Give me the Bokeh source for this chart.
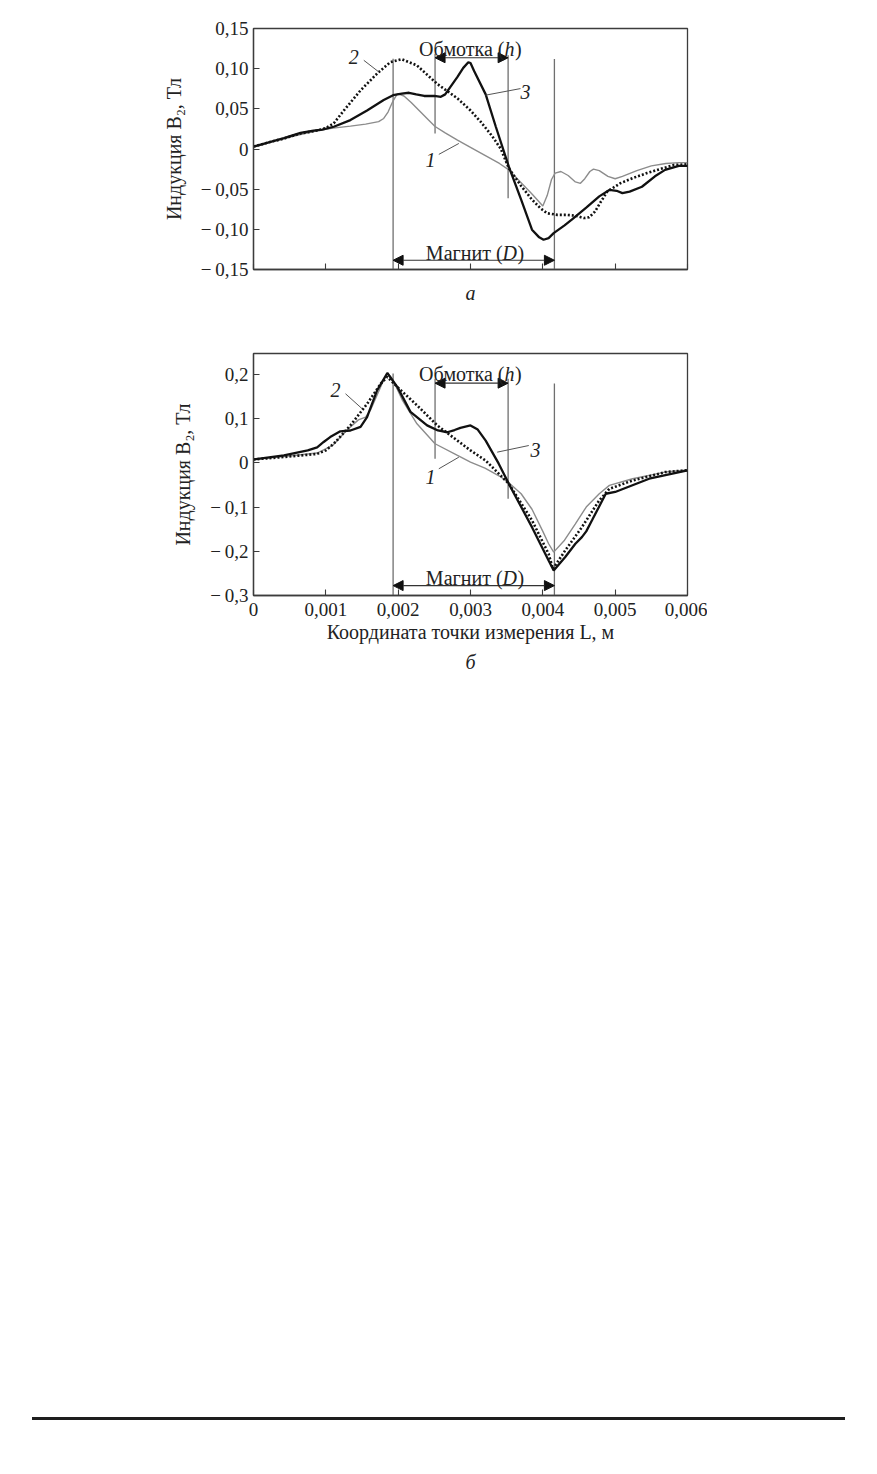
import math
import numpy as np
from bokeh.plotting import figure
from bokeh.models import (Range1d, FixedTicker, CustomJSTickFormatter, Label,
                          Arrow, NormalHead, Title, Div, Spacer)
from bokeh.layouts import column, row
from bokeh.embed import file_html
from bokeh.resources import INLINE

# ---------------- data (x in mm, converted to m below; B in T) ----------------
# panel a
a1_x = [0, 0.2, 0.42, 0.65, 0.88, 1.1, 1.34, 1.55, 1.73, 1.8, 1.86, 1.93, 1.99, 2.08, 2.18,
        2.3, 2.42, 2.51, 2.65, 2.82, 3.0, 3.2, 3.4, 3.53, 3.7, 3.85, 3.95, 4.0, 4.06, 4.12,
        4.17, 4.25, 4.35, 4.45, 4.52, 4.58, 4.65, 4.7, 4.78, 4.9, 5.0, 5.1, 5.3, 5.5, 5.7,
        5.88, 6.0]
a1_y = [0.003, 0.008, 0.013, 0.018, 0.0227, 0.026, 0.0285, 0.031, 0.034, 0.038, 0.046, 0.060,
        0.069, 0.066, 0.058, 0.047, 0.036, 0.028, 0.020, 0.011, 0.002, -0.008, -0.018, -0.026,
        -0.042, -0.056, -0.066, -0.071, -0.058, -0.038, -0.030, -0.028, -0.033, -0.041,
        -0.0427, -0.037, -0.028, -0.025, -0.027, -0.034, -0.037, -0.034, -0.027, -0.021,
        -0.018, -0.017, -0.017]

a2_x = [0, 0.2, 0.42, 0.65, 0.88, 1.0, 1.11, 1.25, 1.48, 1.71, 1.89, 2.05, 2.26, 2.54, 2.82,
        3.0, 3.14, 3.3, 3.42, 3.53, 3.7, 3.85, 3.97, 4.06, 4.2, 4.33, 4.45, 4.57, 4.64, 4.72,
        4.8, 4.89, 5.07, 5.25, 5.44, 5.62, 5.81, 6.0]
a2_y = [0.003, 0.008, 0.013, 0.0194, 0.023, 0.026, 0.032, 0.048, 0.073, 0.094, 0.108, 0.1117,
        0.104, 0.081, 0.063, 0.048, 0.034, 0.016, 0.0, -0.024, -0.046, -0.063, -0.074, -0.080,
        -0.082, -0.082, -0.083, -0.086, -0.085, -0.078, -0.066, -0.053, -0.0427, -0.036,
        -0.030, -0.025, -0.020, -0.019]

a3_x = [0, 0.2, 0.42, 0.65, 0.83, 0.95, 1.11, 1.34, 1.57, 1.8, 1.93, 2.05, 2.15, 2.25, 2.36,
        2.5, 2.59, 2.65, 2.72, 2.82, 2.9, 2.97, 3.0, 3.05, 3.21, 3.35, 3.53, 3.7, 3.85, 3.95,
        4.01, 4.08, 4.15, 4.3, 4.4, 4.6, 4.78, 4.92, 5.02, 5.1, 5.2, 5.37, 5.55, 5.69, 5.88, 6.0]
a3_y = [0.003, 0.008, 0.0135, 0.020, 0.023, 0.024, 0.0277, 0.036, 0.048, 0.061, 0.067, 0.069,
        0.070, 0.068, 0.066, 0.066, 0.065, 0.068, 0.077, 0.0897, 0.101, 0.108, 0.107, 0.097,
        0.068, 0.0277, -0.022, -0.063, -0.1005, -0.110, -0.113, -0.111, -0.1047, -0.095,
        -0.088, -0.073, -0.059, -0.051, -0.052, -0.055, -0.053, -0.047, -0.034, -0.026,
        -0.021, -0.021]

# panel b
b1_x = [0, 0.42, 0.88, 1.1, 1.3, 1.45, 1.55, 1.62, 1.7, 1.78, 1.85, 1.92, 2.06, 2.26, 2.51,
        2.82, 3.0, 3.2, 3.4, 3.53, 3.7, 3.85, 4.0, 4.08, 4.15, 4.3, 4.45, 4.6, 4.78, 4.92,
        5.24, 5.69, 6.0]
b1_y = [0.0075, 0.0143, 0.022, 0.04, 0.075, 0.097, 0.103, 0.12, 0.15, 0.18, 0.203, 0.19,
        0.141, 0.088, 0.043, 0.0166, 0.0015, -0.012, -0.03, -0.045, -0.07, -0.105, -0.155,
        -0.183, -0.202, -0.175, -0.138, -0.10, -0.070, -0.051, -0.036, -0.021, -0.016]

b2_x = [0, 0.42, 0.88, 1.0, 1.11, 1.34, 1.57, 1.76, 1.85, 1.99, 2.26, 2.54, 2.82, 3.0, 3.21,
        3.53, 3.85, 4.08, 4.14, 4.31, 4.54, 4.78, 4.92, 5.24, 5.69, 6.0]
b2_y = [0.0075, 0.013, 0.020, 0.028, 0.043, 0.0845, 0.133, 0.179, 0.194, 0.171, 0.13, 0.0845,
        0.05, 0.028, 0.005, -0.0475, -0.130, -0.206, -0.24, -0.198, -0.1455, -0.085, -0.059,
        -0.040, -0.021, -0.017]

b3_x = [0, 0.42, 0.75, 0.88, 0.97, 1.06, 1.2, 1.34, 1.48, 1.57, 1.71, 1.85, 1.99, 2.17, 2.4,
        2.55, 2.68, 2.78, 2.86, 3.0, 3.1, 3.21, 3.39, 3.53, 3.85, 4.08, 4.15, 4.31, 4.45, 4.54,
        4.6, 4.68, 4.87, 5.0, 5.47, 6.0]
b3_y = [0.0075, 0.0166, 0.028, 0.035, 0.047, 0.058, 0.071, 0.073, 0.081, 0.103, 0.164, 0.203,
        0.171, 0.115, 0.0845, 0.073, 0.069, 0.074, 0.079, 0.0845, 0.075, 0.05, -0.002, -0.0475,
        -0.1455, -0.221, -0.2435, -0.213, -0.183, -0.168, -0.155, -0.130, -0.070, -0.066,
        -0.036, -0.0173]

# geometry of magnet (D) and winding (h), mm
magnet_mm = [1.93, 4.16]
winding_mm = [2.51, 3.52]

x_ticks_mm = [0, 1, 2, 3, 4, 5, 6]
ya_ticks = [-0.15, -0.10, -0.05, 0, 0.05, 0.10, 0.15]
yb_ticks = [-0.3, -0.2, -0.1, 0, 0.1, 0.2]

y_title = "Индукция B₂, Тл"
x_title = "Координата точки измерения L, м"

MM = 1e-3
INK = "#222222"
FRAME = "#3c3c3c"
SERIF = "Liberation Serif"


def m(v):
    return [t * MM for t in v]


def text(p, x_mm, y, s, size=20, style="normal", align="center", baseline="alphabetic",
         angle=0.0, xo=0, yo=0):
    p.add_layout(Label(x=x_mm * MM, y=y, text=s, text_font=SERIF,
                       text_font_size=f"{size}px", text_font_style=style,
                       text_align=align, text_baseline=baseline, angle=angle,
                       x_offset=xo, y_offset=yo, text_color=INK))


def make_fig(y_range, y_ticks, y_code, x_code, top, bottom, fh):
    p = figure(output_backend="svg", toolbar_location=None,
               x_range=Range1d(0, 0.006), y_range=y_range,
               frame_width=434, frame_height=fh,
               min_border_left=253, min_border_right=20,
               min_border_top=top, min_border_bottom=bottom,
               background_fill_color="white", border_fill_color="white")
    p.xgrid.visible = False
    p.ygrid.visible = False
    p.outline_line_color = FRAME
    p.outline_line_width = 1.3
    p.outline_line_alpha = 1.0
    for ax in (p.xaxis[0], p.yaxis[0]):
        ax.axis_line_color = FRAME
        ax.axis_line_width = 1.3
        ax.major_tick_line_color = FRAME
        ax.major_tick_line_width = 1.1
        ax.major_tick_in = 6
        ax.major_tick_out = 0
        ax.minor_tick_line_color = None
        ax.major_label_text_font = SERIF
        ax.major_label_text_font_size = "19px"
        ax.major_label_text_color = INK
        ax.major_label_standoff = 5
        ax.axis_label_text_font = SERIF
        ax.axis_label_text_font_size = "20px"
        ax.axis_label_text_font_style = "normal"
        ax.axis_label_text_color = INK
    p.xaxis[0].ticker = FixedTicker(ticks=m(x_ticks_mm))
    p.yaxis[0].ticker = FixedTicker(ticks=y_ticks)
    p.yaxis[0].formatter = CustomJSTickFormatter(code=y_code)
    p.xaxis[0].formatter = CustomJSTickFormatter(code=x_code)
    p.yaxis[0].axis_label = y_title
    p.yaxis[0].axis_label_standoff = 13
    return p


ya_code = r"""
const v = Math.round(tick * 100);
if (v === 0) return "0";
const s = (Math.abs(v) / 100).toFixed(2).replace(".", ",");
return v < 0 ? "\u2212\u2009" + s : s;
"""
yb_code = r"""
const v = Math.round(tick * 10);
if (v === 0) return "0";
const s = (Math.abs(v) / 10).toFixed(1).replace(".", ",");
return v < 0 ? "\u2212\u2009" + s : s;
"""
x_code = r"""
const v = Math.round(tick * 1000);
if (v === 0) return "0";
return (v / 1000).toFixed(3).replace(".", ",");
"""
x_empty = 'return "";'


def draw_panel(p, c1, c2, c3, wind_ext, mag_ext, arrow_w, arrow_m):
    xs = [winding_mm[0], winding_mm[1], magnet_mm[0], magnet_mm[1]]
    ext = [wind_ext[0], wind_ext[1], mag_ext[0], mag_ext[1]]
    p.segment(x0=m(xs), x1=m(xs), y0=[e[0] for e in ext], y1=[e[1] for e in ext],
              line_color="#6f6f6f", line_width=1.3)
    p.line(m(c1[0]), c1[1], line_color="#8c8c8c", line_width=1.4)
    p.line(m(c3[0]), c3[1], line_color="#111111", line_width=2.3)
    p.line(m(c2[0]), c2[1], line_color="#111111", line_width=2.6, line_dash="2 2")
    for (xa, xb), yy in ((winding_mm, arrow_w), (magnet_mm, arrow_m)):
        p.add_layout(Arrow(x_start=xa * MM, y_start=yy, x_end=xb * MM, y_end=yy,
                           line_color="#333333", line_width=1.2,
                           start=NormalHead(size=10, fill_color="#111111", line_color="#111111", line_width=1),
                           end=NormalHead(size=10, fill_color="#111111", line_color="#111111", line_width=1)))


def annotate(p, y_wind, y_mag):
    text(p, 3.47, y_wind, "Обмотка (", align="right")
    text(p, 3.47, y_wind, "h", style="italic", align="left")
    text(p, 3.47, y_wind, ")", align="left", xo=10.5)
    text(p, 3.443, y_mag, "Магнит (", align="right")
    text(p, 3.443, y_mag, "D", style="italic", align="left")
    text(p, 3.443, y_mag, ")", align="left", xo=15)


# ---------------- panel a ----------------
pa = make_fig(Range1d(-0.15, 0.15), ya_ticks, ya_code, x_empty, 28, 42, 241)
draw_panel(pa, (a1_x, a1_y), (a2_x, a2_y), (a3_x, a3_y),
           [(0.1186, 0.0193), (0.1166, -0.0613)], [(0.1124, -0.15), (0.112, -0.15)],
           0.1136, -0.1385)
pa.segment(x0=m([1.525, 2.562, 3.691]), y0=[0.1104, -0.0067, 0.0752],
           x1=m([1.733, 2.839, 3.208]), y1=[0.0959, 0.0069, 0.067],
           line_color="#555555", line_width=1.0)
text(pa, 1.387, 0.1145, "2", style="italic", baseline="middle")
text(pa, 2.447, -0.0137, "1", style="italic", baseline="middle")
text(pa, 3.76, 0.0711, "3", style="italic", baseline="middle")
annotate(pa, 0.1248, -0.1295)
pa.xaxis[0].axis_label = "а"
pa.xaxis[0].axis_label_text_font_style = "italic"
pa.xaxis[0].axis_label_standoff = 12

# ---------------- panel b ----------------
pb = make_fig(Range1d(-0.3, 0.247), yb_ticks, yb_code, x_code, 42, 90, 242)
pb.xaxis[0].major_label_standoff = 7
draw_panel(pb, (b1_x, b1_y), (b2_x, b2_y), (b3_x, b3_y),
           [(0.19, 0.009), (0.19, -0.0815)], [(0.202, -0.3), (0.179, -0.3)],
           0.180, -0.2776)
pb.segment(x0=m([1.272, 2.562, 3.806]), y0=[0.156, -0.0136, 0.039],
           x1=m([1.503, 2.839, 3.369]), y1=[0.122, 0.0127, 0.024],
           line_color="#555555", line_width=1.0)
text(pb, 1.134, 0.1636, "2", style="italic", baseline="middle")
text(pb, 2.447, -0.0326, "1", style="italic", baseline="middle")
text(pb, 3.899, 0.0278, "3", style="italic", baseline="middle")
annotate(pb, 0.2014, -0.260)
pb.xaxis[0].axis_label = x_title
pb.xaxis[0].axis_label_standoff = 2
pb.add_layout(Title(text="б", align="center", text_font=SERIF, text_font_size="20px",
                    text_font_style="italic", text_color=INK, standoff=6), "below")

# page rule at the bottom of the sheet
rule = Div(text="", width=813, height=3,
           styles={"background-color": "#1e1e1e", "width": "813px", "height": "3px"})
bottom = row(Spacer(width=27, height=3), rule, spacing=0)

layout = column(pa, pb, Spacer(width=10, height=727), bottom, spacing=0)
open("out.html", "w").write(file_html(layout, INLINE))
